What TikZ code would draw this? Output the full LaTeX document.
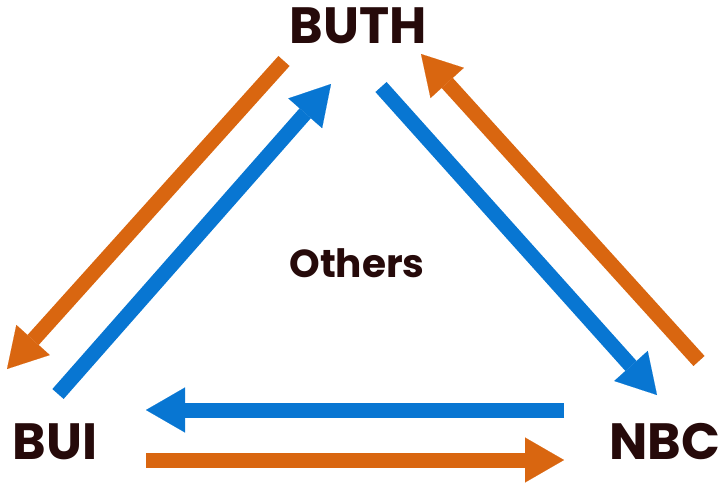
\documentclass[tikz,border=0pt]{standalone}
\usepackage{fontspec}
\setmainfont{Poppins}
\usetikzlibrary{arrows.meta}
\definecolor{arrOrange}{RGB}{217,102,16}
\definecolor{arrBlue}{RGB}{8,118,210}
\definecolor{labelInk}{RGB}{38,10,10}
\tikzset{
  flow/.style={line width=15pt, line cap=butt,
    -{Triangle[width=45pt,length=39pt,line width=0.1pt]}},
  orangeflow/.style={flow, draw=arrOrange, fill=arrOrange},
  blueflow/.style={flow, draw=arrBlue, fill=arrBlue},
  bigLabel/.style={text=labelInk, font=\bfseries\fontsize{51}{51}\selectfont, anchor=base, inner sep=0pt},
  midLabel/.style={text=labelInk, font=\bfseries\fontsize{39}{39}\selectfont, anchor=base, inner sep=0pt}
}
\begin{document}
\begin{tikzpicture}[x=1pt,y=-1pt]
\useasboundingbox (0,0) rectangle (720,482);
% labels
\node[bigLabel] (buth) at (358,43) {BUTH};
\node[bigLabel] (bui) at (55,459) {BUI};
\node[bigLabel] (nbc) at (665,459) {NBC};
\node[midLabel] (others) at (357,277) {Others};
% arrow end points
\coordinate (oTLtail) at (284,61);
\coordinate (oTLtip) at (7,369);
\coordinate (bLtail) at (58,394);
\coordinate (bLtip) at (331,84);
\coordinate (bRtail) at (381,87);
\coordinate (bRtip) at (657,395);
\coordinate (oRtail) at (699,361);
\coordinate (oRtip) at (421,54);
\coordinate (bBtail) at (564,410);
\coordinate (bBtip) at (146,410);
\coordinate (oBtail) at (146,460);
\coordinate (oBtip) at (564,460);
% arrows
\draw[orangeflow] (oTLtail) -- (oTLtip);
\draw[blueflow] (bLtail) -- (bLtip);
\draw[blueflow] (bRtail) -- (bRtip);
\draw[orangeflow] (oRtail) -- (oRtip);
\draw[blueflow] (bBtail) -- (bBtip);
\draw[orangeflow] (oBtail) -- (oBtip);
\end{tikzpicture}
\end{document}
